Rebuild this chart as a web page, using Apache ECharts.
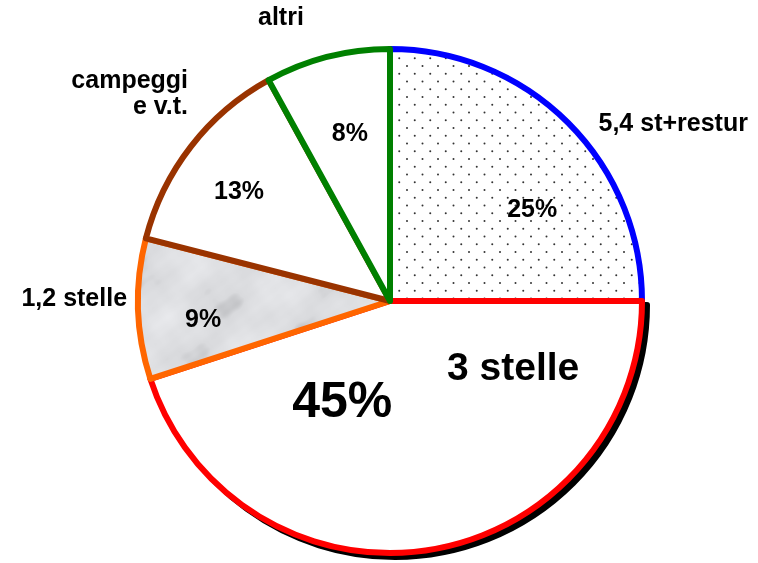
<!DOCTYPE html>
<html>
<head>
<meta charset="utf-8">
<script src="https://cdn.jsdelivr.net/npm/echarts@6/dist/echarts.min.js"></script>
<style>
html,body{margin:0;padding:0;background:#fff;}
#c{width:758px;height:563px;}
</style>
</head>
<body>
<div id="c"></div>
<script>
// ---- data ----
var categories = ['5,4 st+restur', '3 stelle', '1,2 stelle', 'campeggi\ne v.t.', 'altri'];
var values = [25, 45, 9, 13, 8];

// ---- styles ----
var borderColors = ['#0000ff', '#ff0000', '#ff6600', '#993300', '#008000'];

function dotPattern() {
  var c = document.createElement('canvas');
  c.width = 31; c.height = 31;
  var g = c.getContext('2d');
  g.fillStyle = '#ffffff';
  g.fillRect(0, 0, 31, 31);
  g.fillStyle = '#333333';
  var pts = [[4, 4], [19.5, 4], [11.75, 11.75], [27.25, 11.75], [4, 19.5], [19.5, 19.5], [11.75, 27.25], [27.25, 27.25]];
  pts.forEach(function (p) {
    g.beginPath();
    g.arc(p[0], p[1], 1.0, 0, Math.PI * 2);
    g.fill();
  });
  return c;
}

// seamless light-gray marble texture (periodic waves only)
function grayTexture() {
  var w = 200, h = 200;
  var c = document.createElement('canvas');
  c.width = w; c.height = h;
  var g = c.getContext('2d');
  var img = g.createImageData(w, h);
  var P = Math.PI * 2;
  var waves = [[2, 1, 0.0, 0.42], [1, -3, 1.3, 0.3], [5, 3, 2.1, 0.16], [9, -6, 0.7, 0.08], [13, 17, 2.9, 0.05], [3, 7, 4.0, 0.12]];
  for (var y = 0; y < h; y++) {
    for (var x = 0; x < w; x++) {
      var t = 0;
      for (var k = 0; k < waves.length; k++) {
        var wv = waves[k];
        t += Math.sin(P * (wv[0] * x / w + wv[1] * y / h) + wv[2]) * wv[3];
      }
      var v = 222 + t * 10;
      if (t < -0.45) v -= (-0.45 - t) * 35;
      var i = (y * w + x) * 4;
      img.data[i] = v - 1;
      img.data[i + 1] = v;
      img.data[i + 2] = v + 3;
      img.data[i + 3] = 255;
    }
  }
  g.putImageData(img, 0, 0);
  return c;
}

var fills = [
  { image: dotPattern(), repeat: 'repeat' },
  '#ffffff',
  { image: grayTexture(), repeat: 'repeat' },
  '#ffffff',
  '#ffffff'
];

// label layout offsets (from default "inside" anchor)
var pctOffsets = [[51, 0], [-68, -25], [-58, 15], [-49, -30], [-8, -42]];
var pctSizes = [25, 50, 25, 25, 25];
var nameOffsets = [[192, -86], [103, -59], [-134, -6], [-100, -128], [-77, -158]];
var nameAligns = ['center', 'center', 'right', 'right', 'center'];
var nameSizes = [25, 39, 25, 25, 25];

var font = '"Liberation Sans", Arial, sans-serif';

var sliceData = values.map(function (v, i) {
  return {
    value: v,
    name: categories[i],
    itemStyle: {
      color: fills[i],
      borderColor: borderColors[i],
      borderWidth: 6
    },
    label: { fontSize: pctSizes[i] }
  };
});

var shadowData = values.map(function (v, i) {
  return {
    value: v,
    name: categories[i],
    itemStyle: i === 1
      ? { color: '#000000', borderColor: '#000000', borderWidth: 6 }
      : { color: 'rgba(0,0,0,0)', borderWidth: 0 }
  };
});

var nameData = values.map(function (v, i) {
  return {
    value: v,
    name: categories[i],
    label: { fontSize: nameSizes[i] }
  };
});

var chart = echarts.init(document.getElementById('c'), null, { renderer: 'canvas' });
chart.setOption({
  backgroundColor: '#ffffff',
  animation: false,
  series: [
    {
      type: 'pie',
      center: [395, 305],
      radius: 252,
      startAngle: 90,
      clockwise: true,
      silent: true,
      data: shadowData,
      label: { show: false },
      labelLine: { show: false },
      emphasis: { disabled: true }
    },
    {
      type: 'pie',
      center: [390, 301],
      radius: 252,
      startAngle: 90,
      clockwise: true,
      avoidLabelOverlap: false,
      data: sliceData,
      label: {
        show: true,
        position: 'inside',
        formatter: '{d}%',
        color: '#000',
        fontWeight: 'bold',
        fontFamily: font
      },
      labelLine: { show: false },
      labelLayout: function (p) {
        var o = pctOffsets[p.dataIndex];
        return { dx: o[0], dy: o[1] };
      },
      emphasis: { disabled: true }
    },
    {
      type: 'pie',
      center: [390, 301],
      radius: 252,
      startAngle: 90,
      clockwise: true,
      silent: true,
      avoidLabelOverlap: false,
      data: nameData,
      itemStyle: { color: 'rgba(0,0,0,0)', borderWidth: 0 },
      label: {
        show: true,
        position: 'inside',
        formatter: '{b}',
        color: '#000',
        fontWeight: 'bold',
        fontFamily: font,
        lineHeight: 26
      },
      labelLine: { show: false },
      labelLayout: function (p) {
        var o = nameOffsets[p.dataIndex];
        return { dx: o[0], dy: o[1], align: nameAligns[p.dataIndex] };
      },
      emphasis: { disabled: true }
    }
  ]
});
</script>
</body>
</html>
